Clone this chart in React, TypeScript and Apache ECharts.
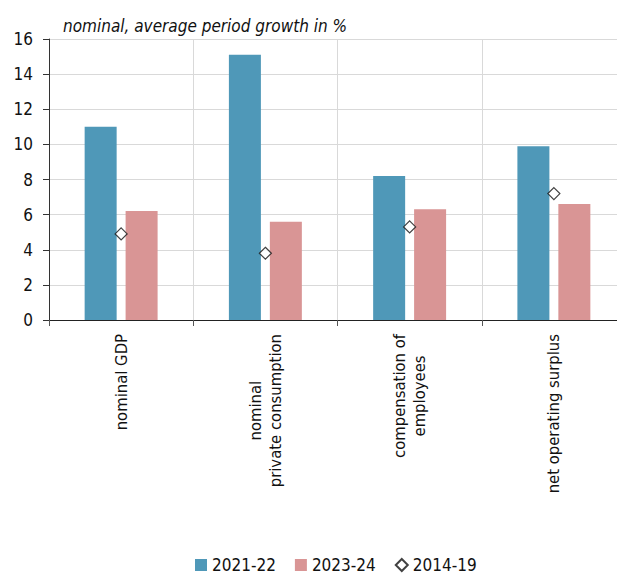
import React, { useEffect, useRef } from "react";
import * as echarts from "echarts";

// Categories and values (average period growth, %)
const categories = [
  "nominal GDP",
  "nominal\nprivate consumption",
  "compensation of\nemployees",
  "net operating surplus",
];
const growth2021_22 = [11.0, 15.1, 8.2, 9.9];
const growth2023_24 = [6.2, 5.6, 6.3, 6.6];
const growth2014_19 = [4.9, 3.8, 5.3, 7.2];
const seriesNames = ["2021-22", "2023-24", "2014-19"];
const yTicks = { min: 0, max: 16, interval: 2 };
const titleText = "nominal, average period growth in %";

const FONT = '"DejaVu Sans Condensed", "DejaVu Sans", sans-serif';
const BLUE = "#4f98b8";
const PINK = "#d99595";
const GRID_LINE = "#d9d9d9";

export default function App() {
  const ref = useRef<HTMLDivElement>(null);

  useEffect(() => {
    document.body.style.margin = "0";
    if (!ref.current) return;
    const chart = echarts.init(ref.current, undefined, { renderer: "svg" });

    chart.setOption({
      animation: false,
      backgroundColor: "#ffffff",
      title: {
        text: titleText,
        left: 58,
        top: 12,
        textStyle: {
          fontFamily: FONT,
          fontSize: 17,
          fontStyle: "italic",
          fontWeight: "normal",
          color: "#111",
        },
      },
      grid: {
        left: 49,
        top: 39,
        bottom: 256,
        width: 577,
        outerBoundsMode: "none",
        containLabel: false,
      },
      legend: {
        left: 195,
        top: 556,
        padding: 0,
        itemWidth: 12,
        itemHeight: 12,
        itemGap: 19,
        textStyle: {
          fontFamily: FONT,
          fontSize: 17,
          lineHeight: 18,
          color: "#111",
        },
        data: [
          { name: seriesNames[0], icon: "rect" },
          { name: seriesNames[1], icon: "rect" },
          { name: seriesNames[2], icon: "diamond" },
        ],
      },
      xAxis: {
        type: "category",
        data: categories,
        axisLine: { show: true, lineStyle: { color: "#222", width: 1 } },
        axisTick: {
          show: true,
          length: 6,
          lineStyle: { color: "#555" },
        },
        splitLine: { show: true, lineStyle: { color: GRID_LINE, width: 1 } },
        axisLabel: {
          interval: 0,
          rotate: 90,
          margin: 14,
          fontFamily: FONT,
          fontSize: 16.5,
          color: "#111",
          formatter: (v: string) =>
            v
              .split("\n")
              .map((line) => `{c|${line}}`)
              .join("\n"),
          rich: {
            c: {
              align: "center",
              fontFamily: FONT,
              fontSize: 16.5,
              lineHeight: 20,
              color: "#111",
            },
          },
        },
      },
      yAxis: {
        type: "value",
        min: yTicks.min,
        max: yTicks.max,
        interval: yTicks.interval,
        axisLine: { show: true, lineStyle: { color: "#333", width: 1 } },
        axisTick: { show: true, length: 6, lineStyle: { color: "#333" } },
        splitLine: { show: true, lineStyle: { color: GRID_LINE, width: 1 } },
        axisLabel: {
          margin: 16,
          fontFamily: FONT,
          fontSize: 17,
          color: "#111",
        },
      },
      series: [
        {
          name: seriesNames[0],
          type: "bar",
          data: growth2021_22,
          barWidth: 32,
          barGap: "28%",
          itemStyle: { color: BLUE },
        },
        {
          name: seriesNames[1],
          type: "bar",
          data: growth2023_24,
          barWidth: 32,
          barGap: "28%",
          itemStyle: { color: PINK },
        },
        {
          name: seriesNames[2],
          type: "scatter",
          data: growth2014_19,
          symbol: "diamond",
          symbolSize: 12,
          z: 5,
          itemStyle: { color: "#ffffff", borderColor: "#111", borderWidth: 1.2 },
        },
      ],
    });

    return () => chart.dispose();
  }, []);

  return <div ref={ref} style={{ width: 617, height: 576 }} />;
}
